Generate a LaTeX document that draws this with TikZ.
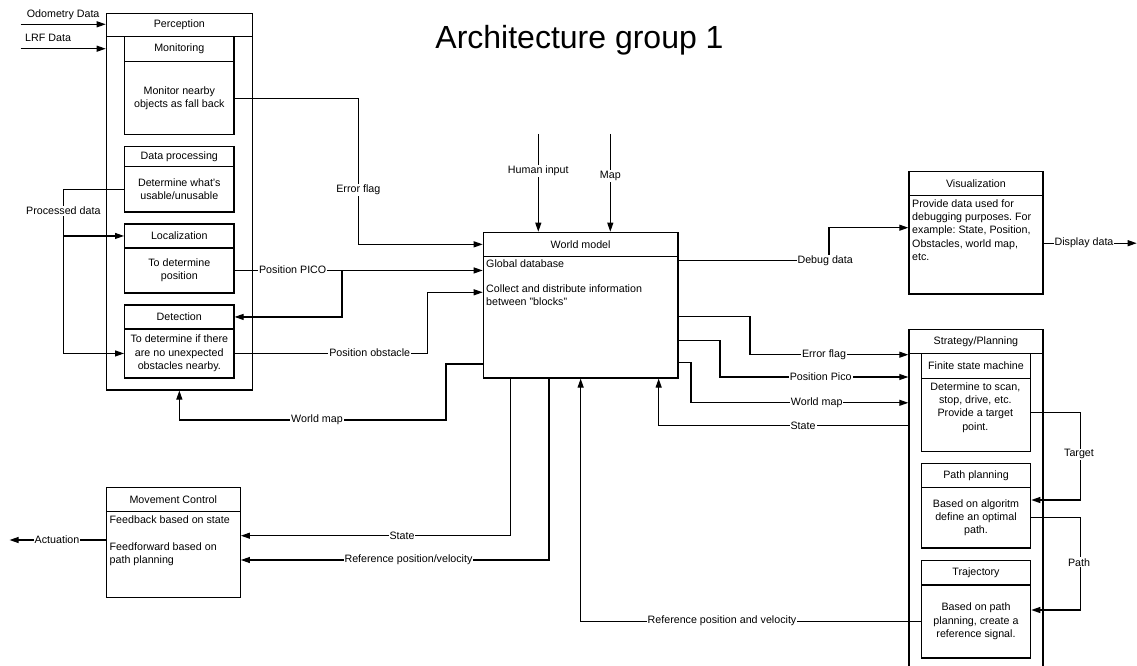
\documentclass[tikz,border=0pt]{standalone}
\usepackage{fontspec}
\setmainfont{Liberation Sans}
\usetikzlibrary{arrows.meta,calc}
\newcommand{\dfont}{\fontsize{10.7}{13.3}\selectfont}
\frenchspacing
\begin{document}
\begin{tikzpicture}[x=1pt,y=-1pt,
  box/.style={draw, line width=1.3pt, inner sep=0pt, anchor=north west, font=\dfont, align=center},
  txt/.style={inner sep=0pt, font=\dfont, align=center},
  ltxt/.style={inner sep=0pt, font=\dfont, align=left},
  lbl/.style={fill=white, inner sep=1pt, font=\dfont},
  conn/.style={line width=1.1pt},
  arr/.style={conn, -{Triangle[length=9pt,width=6pt]}}]
\useasboundingbox (0,0) rectangle (1137,666);
\clip (0,0) rectangle (1137,666);

% title
\node[font=\fontsize{32}{38}\selectfont, anchor=base, inner sep=0pt] (title) at (579.5,48.3) {Architecture group 1};

% Perception
\node[box, minimum width=146pt, minimum height=376.6pt] (perc) at (105.7,12.7) {};
\node[box, minimum width=146pt, minimum height=23.3pt] (perch) at (105.7,12.7) {Perception};
\node[box, minimum width=109.3pt, minimum height=25pt] (monh) at (124,36) {Monitoring};
\node[box, minimum width=109.3pt, minimum height=73pt] (monb) at (124,61) {Monitor nearby\\objects as fall back};
\node[box, minimum width=109.3pt, minimum height=19.7pt] (dph) at (124,146) {Data processing};
\node[box, minimum width=109.3pt, minimum height=45.6pt] (dpb) at (124,165.7) {Determine what\symbol{39}s\\usable/unusable};
\node[box, minimum width=109.3pt, minimum height=24pt] (loch) at (124,223.3) {Localization};
\node[box, minimum width=109.3pt, minimum height=45pt] (locb) at (124,247.3) {To determine\\position};
\node[box, minimum width=109.3pt, minimum height=24pt] (deth) at (124,304.3) {Detection};
\node[box, minimum width=109.3pt, minimum height=49pt] (detb) at (124,328.3) {To determine if there\\are no unexpected\\obstacles nearby.};

% World model
\node[box, minimum width=194.6pt, minimum height=145.6pt] (wm) at (482.7,231.7) {};
\node[box, minimum width=194.6pt, minimum height=24pt] (wmh) at (482.7,231.7) {World model};
\node[ltxt, anchor=west] (wmt1) at (486,264) {Global database};
\node[ltxt, anchor=north west] (wmt2) at (486,284.4) {Collect and distribute information\\between \symbol{34}blocks\symbol{34}};

% Visualization
\node[box, minimum width=134pt, minimum height=122.6pt] (vis) at (908.3,170.7) {};
\node[box, minimum width=134pt, minimum height=24.3pt] (vish) at (908.3,170.7) {Visualization};
\node[ltxt, anchor=north west] (vist) at (912,199.4) {Provide data used for\\debugging purposes. For\\example: State, Position,\\Obstacles, world map,\\etc.};

% Strategy / Planning
\node[box, minimum width=134pt, minimum height=360pt] (str) at (908.3,328.7) {};
\node[box, minimum width=134pt, minimum height=24pt] (strh) at (908.3,328.7) {Strategy/Planning};
\node[box, minimum width=109.3pt, minimum height=25pt] (fsmh) at (920.7,352.7) {Finite state machine};
\node[box, minimum width=109.3pt, minimum height=73pt] (fsmb) at (920.7,377.7) {};
\node[txt] (fsmt) at (975.35,407.3) {Determine to scan,\\stop, drive, etc.\\Provide a target\\point.};
\node[box, minimum width=109.3pt, minimum height=24pt] (pph) at (920.7,462.7) {Path planning};
\node[box, minimum width=109.3pt, minimum height=60.6pt] (ppb) at (920.7,486.7) {Based on algoritm\\define an optimal\\path.};
\node[box, minimum width=109.3pt, minimum height=24.3pt] (trh) at (920.7,560) {Trajectory};
\node[box, minimum width=109.3pt, minimum height=73pt] (trb) at (920.7,584.3) {Based on path\\planning, create a\\reference signal.};

% Movement control
\node[box, minimum width=134pt, minimum height=110pt] (mc) at (105.6,486.7) {};
\node[box, minimum width=134pt, minimum height=24.3pt] (mch) at (105.6,486.7) {Movement Control};
\node[ltxt, anchor=west] (mct1) at (109.5,520) {Feedback based on state};
\node[ltxt, anchor=north west] (mct2) at (109.5,542.1) {Feedforward based on\\path planning};

% inputs to perception
\coordinate (odo) at (20.7,24.3);
\coordinate (lrf) at (20.7,48.7);
\draw[arr] (odo) -- (odo -| perc.west);
\draw[arr] (lrf) -- (lrf -| perc.west);
\node[ltxt, anchor=west] (odol) at (26.7,14.3) {Odometry Data};
\node[ltxt, anchor=west] (lrfl) at (25,38.3) {LRF Data};

% error flag
\draw[arr] (monb.east) -| ($(wmh.west)+(-124.4,0)$) -- (wmh.west);

% processed data
\coordinate (pd) at ($(dpb.west)+(-60.7,0)$);
\draw[conn] (dpb.west) -- (pd);
\draw[arr] (pd) |- (loch.west);
\draw[arr] (pd) |- (detb.west);

% position PICO
\draw[arr] (locb.east) -- (locb.east -| wm.west);
\coordinate (pp) at ($(locb.east)+(107.4,0)$);
\draw[arr] (pp) |- (deth.east);

% position obstacle
\coordinate (wmin3) at ($(wm.north west)+(0,60.6)$);
\draw[arr] (detb.east) -| ($(wmin3)+(-55,0)$) -- (wmin3);

% world map to perception
\coordinate (wmout) at ($(wm.north west)+(0,132.3)$);
\draw[arr] (wmout) -- ++(-36.7,0) -- ++(0,56) -| (perc.south);

% human input / map
\coordinate (hi) at (538.3,134);
\coordinate (mp) at (610.3,134);
\draw[arr] (hi) -- (hi |- wm.north);
\draw[arr] (mp) -- (mp |- wm.north);

% debug data
\coordinate (dbg) at ($(wm.north east)+(0,29)$);
\coordinate (visin) at ($(vis.north west)+(0,57)$);
\draw[arr] (dbg) -| ($(visin)+(-79.3,0)$) -- (visin);

% display data
\coordinate (visout) at ($(vis.north east)+(0,72.5)$);
\coordinate (disp) at (1136.7,0);
\draw[arr] (visout) -- (visout -| disp);

% world model -> strategy
\coordinate (e1) at ($(wm.north east)+(0,85)$);
\coordinate (e2) at ($(wm.north east)+(0,109)$);
\coordinate (e3) at ($(wm.north east)+(0,130.6)$);
\coordinate (s1) at ($(str.north west)+(0,26)$);
\coordinate (s2) at ($(str.north west)+(0,48.3)$);
\coordinate (s3) at ($(str.north west)+(0,74.1)$);
\coordinate (s4) at ($(str.north west)+(0,96.8)$);
\draw[arr] (e1) -| ($(s1)+(-158.3,0)$) -- (s1);
\draw[arr] (e2) -| ($(s2)+(-188.3,0)$) -- (s2);
\draw[arr] (e3) -| ($(s3)+(-217.3,0)$) -- (s3);
\draw[arr] (s4) -| ($(wm.south)+(78,0)$);

% target / path
\coordinate (t1) at ($(fsmb.east)+(0,-2.5)$);
\coordinate (t2) at ($(ppb.north east)+(0,13.3)$);
\draw[arr] (t1) -- ++(49,0) |- (t2);
\draw[arr] (ppb.east) -- ++(49,0) |- ($(trb.north east)+(0,25.7)$);

% reference position and velocity
\draw[arr] (trb.west) -| (wm.south);

% world model -> movement control
\coordinate (w1) at ($(wm.south west)+(28,0)$);
\coordinate (w2) at ($(wm.south west)+(66.3,0)$);
\coordinate (m1) at ($(mc.north east)+(0,49)$);
\coordinate (m2) at ($(mc.north east)+(0,73.3)$);
\draw[arr] (w1) |- (m1);
\draw[arr] (w2) |- (m2);

% actuation
\coordinate (mcout) at ($(mc.north west)+(0,53.3)$);
\coordinate (act) at (9.6,0);
\draw[arr] (mcout) -- (mcout -| act);

% labels
\node[lbl] (l1) at (358.3,190) {Error flag};
\node[lbl] (l2) at (63.3,211) {Processed data};
\node[lbl] (l3) at (292.7,269.8) {Position PICO};
\node[lbl] (l4) at (369.7,352.8) {Position obstacle};
\node[lbl] (l5) at (317,420) {World map};
\node[lbl] (l6) at (538.3,171) {Human input};
\node[lbl] (l7) at (610.3,176) {Map};
\node[lbl] (l8) at (825.2,260.7) {Debug data};
\node[lbl] (l9) at (1084,243.2) {Display data};
\node[lbl] (l10) at (824,354.7) {Error flag};
\node[lbl] (l11) at (820.7,377) {Position Pico};
\node[lbl] (l12) at (816.7,402.8) {World map};
\node[lbl] (l13) at (803,425.5) {State};
\node[lbl] (l14) at (1079,454.3) {Target};
\node[lbl] (l15) at (1079,562.3) {Path};
\node[lbl] (l16) at (722,620.8) {Reference position and velocity};
\node[lbl] (l17) at (402,535.7) {State};
\node[lbl] (l18) at (408.5,560) {Reference position/velocity};
\node[lbl] (l19) at (57,540) {Actuation};
\end{tikzpicture}
\end{document}
